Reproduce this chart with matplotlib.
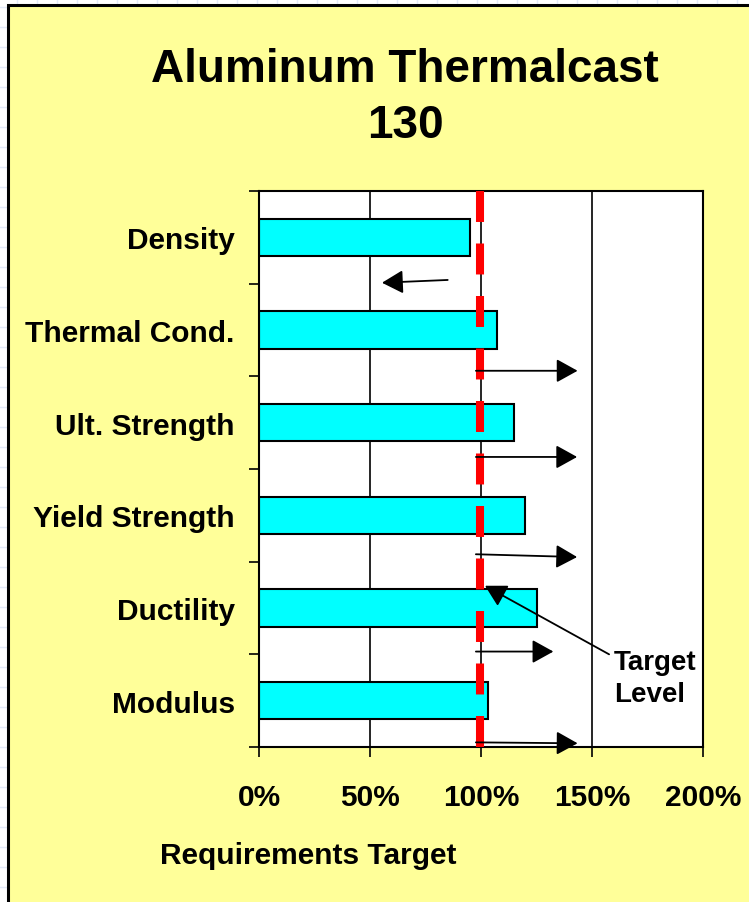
import matplotlib
matplotlib.use("Agg")
import matplotlib.pyplot as plt
from matplotlib.patches import Rectangle
import numpy as np

plt.rcParams['font.family'] = ['Liberation Sans', 'DejaVu Sans']
plt.rcParams['font.weight'] = 'bold'
plt.rcParams['lines.scale_dashes'] = False

# ---- data ----
categories = ["Density", "Thermal Cond.", "Ult. Strength", "Yield Strength", "Ductility", "Modulus"]
values = [95, 107, 115, 120, 125, 103]
target = 99.5
x_ticks = [0, 50, 100, 150, 200]
x_tick_labels = ["0%", "50%", "100%", "150%", "200%"]
arrow_tail_x = [85, 97.7, 97.7, 97.7, 97.7, 97.7]
arrow_head_x = [55.4, 143.5, 143.3, 143.3, 132.6, 143.5]
arrow_tail_y = [0.46, 1.44, 2.37, 3.42, 4.47, 5.45]
arrow_head_y = [0.49, 1.44, 2.37, 3.45, 4.47, 5.46]
target_arrow_tail = (157.7, 4.50)
target_arrow_head = (101.8, 3.76)

W, H = 749, 903
fig = plt.figure(figsize=(W / 100, H / 100), dpi=100)
fig.patch.set_facecolor('white')

# background faint grid (outside chart frame)
bg = fig.add_axes([0, 0, 1, 1])
bg.set_xlim(0, W)
bg.set_ylim(H, 0)
bg.axis('off')
for gx in np.arange(-3, W, 20):
    bg.axvline(gx, color='#E3EAF8', lw=1.0, zorder=1)
for gy in np.arange(8, H, 20):
    bg.axhline(gy, color='#E3EAF8', lw=1.0, zorder=1)
bg.add_patch(Rectangle((8, 6), W + 20, H + 20, facecolor='#FFFF99',
                       edgecolor='black', lw=2.2, zorder=5))

def fx(px):
    return px / W

def fy(py):
    return 1 - py / H

# titles
fig.text(fx(405), fy(82), "Aluminum Thermalcast", ha='center', va='baseline',
         fontsize=33, fontweight='bold')
fig.text(fx(405), fy(138), "130", ha='center', va='baseline',
         fontsize=33, fontweight='bold')
fig.text(fx(160), fy(864), "Requirements Target", ha='left', va='baseline',
         fontsize=21.5, fontweight='bold')

# main axes
left, right, top, bottom = 259, 703, 192, 748
ax = fig.add_axes([fx(left), fy(bottom), (right - left) / W, (bottom - top) / H])
ax.set_facecolor('white')
n = len(categories)
ypos = np.arange(n)
ax.set_xlim(0, 200)
ax.set_ylim(n - 0.5, -0.5)

for xv in [50, 100, 150]:
    ax.axvline(xv, color='black', lw=1.2, zorder=1)

ax.barh(ypos, values, height=0.4, color='#00FFFF', edgecolor='black', lw=1.5, zorder=2)

ax.plot([target, target], [-0.5, n - 0.5], color='#FF0000', lw=5.8,
        dashes=(22.3, 15.5), zorder=3, solid_capstyle='butt', dash_capstyle='butt')

for tx, hx, ty, hy in zip(arrow_tail_x, arrow_head_x, arrow_tail_y, arrow_head_y):
    ax.annotate("", xy=(hx, hy), xytext=(tx, ty),
                arrowprops=dict(arrowstyle='-|>,head_length=0.65,head_width=0.36',
                                mutation_scale=20, color='black', lw=1.3,
                                shrinkA=0, shrinkB=0), zorder=4)

ax.annotate("", xy=target_arrow_head, xytext=target_arrow_tail,
            arrowprops=dict(arrowstyle='-|>,head_length=0.65,head_width=0.36',
                            mutation_scale=20, color='black', lw=1.3,
                            shrinkA=0, shrinkB=0), zorder=4)
fig.text(fx(614), fy(670), "Target", ha='left', va='baseline', fontsize=20, fontweight='bold')
fig.text(fx(614), fy(702), "Level", ha='left', va='baseline', fontsize=20, fontweight='bold')

# ticks
ax.set_xticks(x_ticks)
ax.set_xticklabels(x_tick_labels)
ax.set_yticks(np.arange(-0.5, n, 1.0))
ax.set_yticklabels([])
ax.set_yticks(ypos, minor=True)
ax.set_yticklabels(categories, minor=True)
ax.tick_params(axis='x', direction='out', length=7.2, width=1.2, pad=19,
               labelsize=21.5)
ax.tick_params(axis='y', which='major', direction='out', length=7.2, width=1.2)
ax.tick_params(axis='y', which='minor', length=0, pad=17.5, labelsize=21.5)
for lab in ax.get_xticklabels() + ax.get_yticklabels(minor=True):
    lab.set_fontweight('bold')
    lab.set_y(lab.get_position()[1])
for lab in ax.get_yticklabels(minor=True):
    lab.set_verticalalignment('center_baseline')
for sp in ax.spines.values():
    sp.set_linewidth(1.5)
    sp.set_color('black')

fig.savefig("out.png", dpi=100)
